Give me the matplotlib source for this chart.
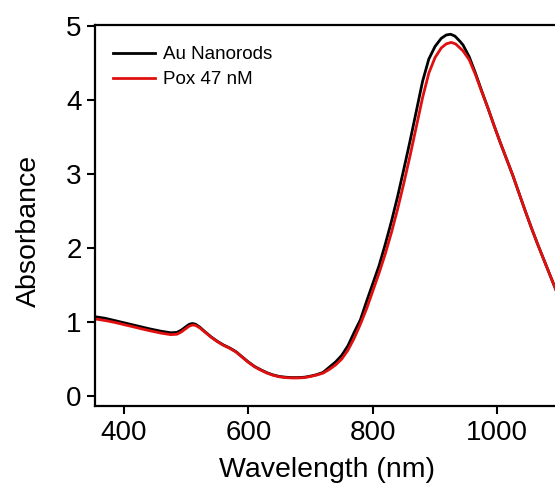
import matplotlib
matplotlib.use("Agg")
import matplotlib.pyplot as plt

plt.rcParams['font.family'] = ['Liberation Sans', 'DejaVu Sans']

# longueurs d'onde (nm) et absorbances
wl_au = [355, 370, 385, 400, 420, 440, 460, 475, 485, 492, 500, 505, 510, 515, 522, 530,
         540, 550, 560, 570, 580, 590, 600, 610, 620, 630, 640, 650, 660, 670, 680, 690,
         700, 710, 720, 730, 740, 750, 760, 770, 780, 790, 800, 810, 820, 830, 840, 850,
         860, 870, 880, 890, 900, 910, 918, 925, 932, 940, 945, 955, 965, 975, 985, 995, 1005,
         1015, 1025, 1035, 1045, 1055, 1065, 1075, 1085, 1095, 1100]
abs_au = [1.07, 1.05, 1.02, 0.99, 0.95, 0.91, 0.875, 0.855, 0.86, 0.89, 0.94, 0.97, 0.98, 0.97, 0.93, 0.87,
          0.80, 0.74, 0.69, 0.65, 0.60, 0.53, 0.46, 0.40, 0.355, 0.315, 0.285, 0.265, 0.255, 0.25, 0.25, 0.255,
          0.27, 0.29, 0.32, 0.39, 0.46, 0.55, 0.68, 0.86, 1.03, 1.28, 1.52, 1.76, 2.05, 2.36, 2.70, 3.07,
          3.45, 3.85, 4.25, 4.55, 4.72, 4.83, 4.875, 4.885, 4.86, 4.79, 4.74, 4.58, 4.36, 4.12, 3.89, 3.65, 3.42,
          3.20, 2.98, 2.74, 2.50, 2.27, 2.05, 1.84, 1.63, 1.42, 1.33]

wl_pox = [355, 370, 385, 400, 420, 440, 460, 475, 485, 492, 500, 505, 510, 515, 522, 530,
          540, 550, 560, 570, 580, 590, 600, 610, 620, 630, 640, 650, 660, 670, 680, 690,
          700, 710, 720, 730, 740, 750, 760, 770, 780, 790, 800, 810, 820, 830, 840, 850,
          860, 870, 880, 890, 900, 910, 918, 926, 933, 940, 945, 955, 965, 975, 985, 995, 1005,
          1015, 1025, 1035, 1045, 1055, 1065, 1075, 1085, 1095, 1100]
abs_pox = [1.04, 1.02, 0.995, 0.965, 0.925, 0.885, 0.85, 0.83, 0.835, 0.865, 0.915, 0.945, 0.96, 0.955, 0.92, 0.865,
           0.795, 0.735, 0.685, 0.645, 0.595, 0.525, 0.455, 0.395, 0.35, 0.31, 0.28, 0.26, 0.25, 0.245, 0.245, 0.25,
           0.265, 0.285, 0.31, 0.36, 0.42, 0.50, 0.62, 0.78, 0.97, 1.18, 1.42, 1.66, 1.92, 2.21, 2.53, 2.88,
           3.25, 3.64, 4.03, 4.36, 4.57, 4.70, 4.755, 4.775, 4.755, 4.70, 4.66, 4.54, 4.34, 4.11, 3.89, 3.65, 3.42,
           3.20, 2.98, 2.74, 2.50, 2.27, 2.05, 1.84, 1.63, 1.42, 1.33]

x_ticks = [400, 600, 800, 1000]
y_ticks = [0, 1, 2, 3, 4, 5]

fig = plt.figure(figsize=(5.55, 4.93), dpi=100)
ax = fig.add_axes([0.1712, 0.1755, 0.8368, 0.7738])

ax.plot(wl_au, abs_au, color='black', lw=2.0, label='Au Nanorods')
ax.plot(wl_pox, abs_pox, color='#e01010', lw=2.0, label='Pox 47 nM')

ax.set_xlim(353.4, 1100)
ax.set_ylim(-0.14, 5.01)
ax.set_xticks(x_ticks)
ax.set_yticks(y_ticks)

for s in ax.spines.values():
    s.set_linewidth(1.6)
ax.spines['right'].set_visible(False)
ax.tick_params(direction='out', length=5.5, width=1.5, labelsize=20, pad=4)

ax.set_xlabel('Wavelength (nm)', fontsize=20.5, labelpad=8)
ax.set_ylabel('Absorbance', fontsize=20.5)
ax.yaxis.set_label_coords(-0.115, 0.46)

ax.legend(loc='upper left', bbox_to_anchor=(0.039, 0.944), frameon=False, fontsize=13.5,
          handlelength=2.25, handletextpad=0.4, labelspacing=0.4, borderpad=0, borderaxespad=0)

fig.savefig('out.png', dpi=100)
